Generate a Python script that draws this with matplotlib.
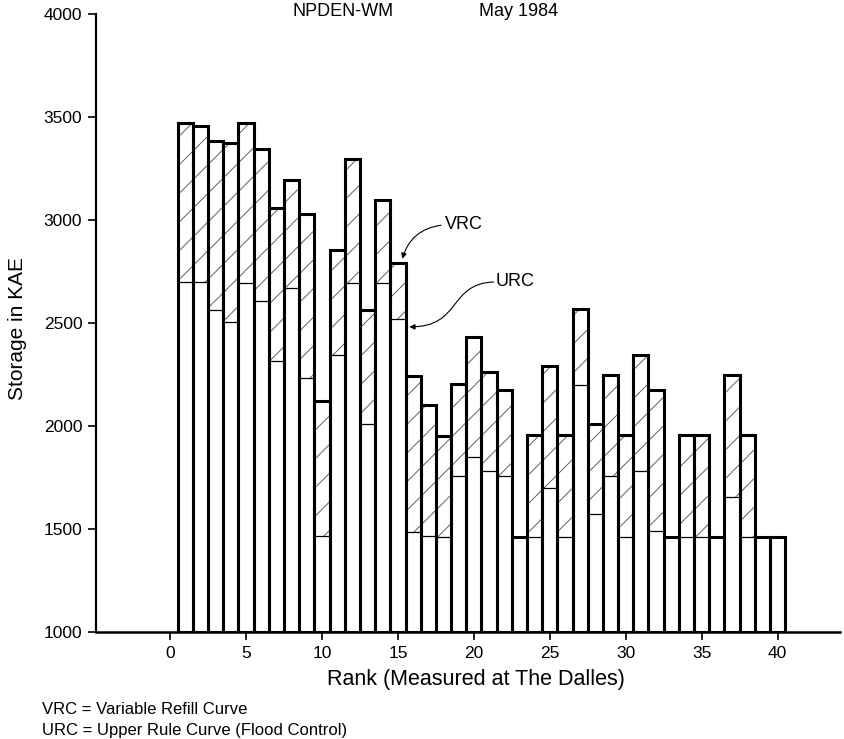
import matplotlib
matplotlib.use("Agg")
from matplotlib import pyplot as plt
from matplotlib.path import Path
from matplotlib.patches import FancyArrowPatch
import numpy as np

rank = list(range(1, 41))
vrc = [3470, 3455, 3385, 3375, 3470, 3345, 3060, 3195, 3030, 2120,
       2855, 3295, 2565, 3095, 2790, 2240, 2100, 1950, 2205, 2430,
       2260, 2175, 1460, 1955, 2290, 1955, 2570, 2010, 2245, 1955,
       2345, 2175, 1460, 1955, 1955, 1460, 2245, 1955, 1460, 1460]
urc = [2700, 2700, 2565, 2505, 2695, 2605, 2315, 2670, 2235, 1465,
       2345, 2695, 2010, 2695, 2520, 1485, 1465, 1460, 1755, 1850,
       1780, 1755, 1460, 1460, 1700, 1460, 2200, 1570, 1755, 1460,
       1780, 1490, 1460, 1460, 1460, 1460, 1655, 1460, 1460, 1460]
xticks = [0, 5, 10, 15, 20, 25, 30, 35, 40]
yticks = [1000, 1500, 2000, 2500, 3000, 3500, 4000]

# lower dpi so the hatch comes out a bit denser; k keeps sizes in pixels
DPI = 86
k = 100 / DPI

plt.rcParams['font.family'] = ['Liberation Sans', 'DejaVu Sans']
plt.rcParams['hatch.linewidth'] = 0.7 * k

fig = plt.figure(figsize=(844 / DPI, 739 / DPI), dpi=DPI)
ax = fig.add_axes([0.114, 0.145, 0.881, 0.836])

x = np.array(rank)
v = np.array(vrc)
u = np.array(urc)
base = 1000

# white bars
ax.bar(x, v - base, bottom=base, width=1, color='white', edgecolor='none', zorder=1)
# hatched part between URC and VRC
hat = v > u
ax.bar(x[hat], (v - u)[hat], bottom=u[hat], width=1, color='white',
       edgecolor='#606060', linewidth=0, hatch='/', zorder=2)
# thin URC line
ax.hlines(u[hat], x[hat] - 0.5, x[hat] + 0.5, colors='black', linewidth=0.9 * k, zorder=3)
# heavy outline
ax.bar(x, v - base, bottom=base, width=1, fill=False, edgecolor='black',
       linewidth=2.2 * k, zorder=4)

ax.set_xlim(-4.87, 44.1)
ax.set_ylim(1000, 4000)
ax.set_xticks(xticks)
ax.set_yticks(yticks)
ax.tick_params(axis='both', direction='out', length=6 * k, width=1.2 * k,
               labelsize=12.5 * k)
ax.tick_params(axis='x', pad=4 * k)
ax.tick_params(axis='y', pad=4 * k)
for s in ['top', 'right']:
    ax.spines[s].set_visible(False)
ax.spines['left'].set_linewidth(1.6 * k)
ax.spines['bottom'].set_linewidth(1.8 * k)

# VRC / URC callouts
ax.text(18.1, 2976, 'VRC', fontsize=13 * k, va='center', ha='left')
ax.annotate('', xy=(15.25, 2800), xytext=(18.0, 2976),
            arrowprops=dict(arrowstyle='-|>', color='black', lw=0.8 * k,
                            mutation_scale=8 * k,
                            connectionstyle='arc3,rad=0.35'))
ax.text(21.45, 2699, 'URC', fontsize=13 * k, va='center', ha='left')
verts = [(21.3, 2699), (18.3, 2690), (19.2, 2480), (15.75, 2481)]
path = Path(verts, [Path.MOVETO, Path.CURVE4, Path.CURVE4, Path.CURVE4])
ax.add_patch(FancyArrowPatch(path=path, arrowstyle='-|>', color='black',
                             lw=0.8 * k, mutation_scale=8 * k))

fig.text(293 / 844, 1 - 12 / 739, 'NPDEN-WM', fontsize=13 * k, va='center', ha='left')
fig.text(479 / 844, 1 - 12 / 739, 'May 1984', fontsize=13 * k, va='center', ha='left')
fig.text(18 / 844, 1 - 328 / 739, 'Storage in KAE', fontsize=15 * k, rotation=90,
         va='center', ha='center')
fig.text(476 / 844, 1 - 680 / 739, 'Rank (Measured at The Dalles)', fontsize=15.5 * k,
         va='center', ha='center')
fig.text(42 / 844, 1 - 710 / 739, 'VRC = Variable Refill Curve', fontsize=12 * k,
         va='center', ha='left')
fig.text(42 / 844, 1 - 730 / 739, 'URC = Upper Rule Curve (Flood Control)',
         fontsize=12 * k, va='center', ha='left')

fig.savefig('out.png', dpi=DPI)
